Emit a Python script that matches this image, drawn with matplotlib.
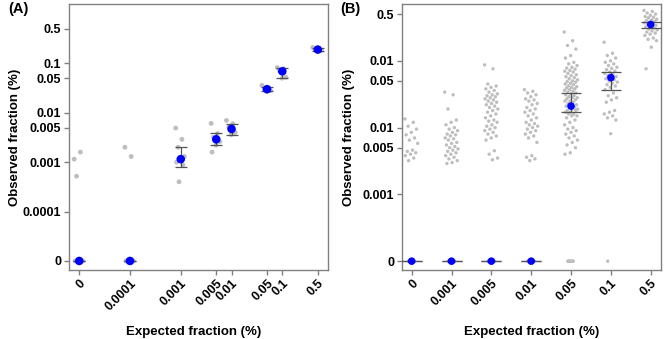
import numpy as np
import matplotlib
matplotlib.use("Agg")
import matplotlib.pyplot as plt

plt.rcParams['font.family'] = ['Liberation Sans', 'DejaVu Sans']
plt.rcParams['font.weight'] = 'bold'

# ---------------- Panel A data ----------------
a_expected = [0, 0.0001, 0.001, 0.005, 0.01, 0.05, 0.1, 0.5]
a_tick_labels = ['0', '0.0001', '0.001', '0.005', '0.01', '0.05', '0.1', '0.5']
a_y_ticks = [0, 0.0001, 0.001, 0.005, 0.01, 0.05, 0.1, 0.5]
a_y_labels = ['0', '0.0001', '0.001', '0.005', '0.01', '0.05', '0.1', '0.5']
a_obs = [
    [0.00115, 0.0016, 0.00052, 0, 0, 0, 0, 0],
    [0.002, 0.0013, 0, 0, 0, 0],
    [0.0049, 0.0029, 0.002, 0.0013, 0.0011, 0.001, 0.00088, 0.0004],
    [0.0061, 0.0038, 0.0032, 0.0026, 0.0022, 0.0016],
    [0.0070, 0.0060, 0.0052, 0.0040, 0.0036],
    [0.036, 0.032, 0.030, 0.028, 0.027],
    [0.082, 0.078, 0.070, 0.052, 0.050],
    [0.21, 0.20, 0.19, 0.18],
]
a_center = [0, 0, 0.00115, 0.0029, 0.0047, 0.030, 0.069, 0.19]
a_low = [0, 0, 0.0008, 0.0022, 0.0036, 0.027, 0.050, 0.18]
a_high = [0, 0, 0.002, 0.0039, 0.0059, 0.033, 0.079, 0.20]

# ---------------- Panel B data ----------------
b_categories = ['0', '0.001', '0.005', '0.01', '0.05', '0.1', '0.5']
b_y_ticks = [0, 0.001, 0.005, 0.01, 0.05, 0.1, 0.5]
b_y_labels = ['0', '0.001', '0.005', '0.01', '0.05', '0.01', '0.5']
b_obs = [
    [0.0135, 0.0120, 0.0105, 0.0095, 0.0085, 0.0078, 0.0070, 0.0065, 0.0058,
     0.0046, 0.0044, 0.0042, 0.0040, 0.0038, 0.0035, 0.0032] + [0] * 20,
    [0.034, 0.031, 0.019, 0.013, 0.012, 0.011, 0.010, 0.0095, 0.009, 0.0085,
     0.008, 0.0078, 0.0075, 0.007, 0.0068, 0.0065, 0.006, 0.0058, 0.0055,
     0.0052, 0.005, 0.0048, 0.0046, 0.0044, 0.0042, 0.004, 0.0038, 0.0036,
     0.0034, 0.0032, 0.003, 0.0029] + [0] * 40,
    [0.087, 0.076, 0.045, 0.042, 0.040, 0.038, 0.036, 0.034, 0.032, 0.031,
     0.030, 0.029, 0.028, 0.027, 0.026, 0.025, 0.024, 0.023, 0.022, 0.021,
     0.020, 0.019, 0.018, 0.017, 0.016, 0.015, 0.014, 0.013, 0.0125, 0.012,
     0.011, 0.0105, 0.010, 0.0095, 0.009, 0.0085, 0.008, 0.0075, 0.007,
     0.0065, 0.0045, 0.004, 0.0035, 0.0033] + [0] * 50,
    [0.037, 0.035, 0.033, 0.031, 0.029, 0.027, 0.026, 0.025, 0.023, 0.022,
     0.020, 0.019, 0.018, 0.017, 0.016, 0.015, 0.014, 0.013, 0.012, 0.0115,
     0.011, 0.0105, 0.010, 0.0095, 0.009, 0.0085, 0.008, 0.0075, 0.007,
     0.006, 0.0038, 0.0036, 0.0034, 0.0032] + [0] * 40,
    [0.27, 0.20, 0.17, 0.15, 0.12, 0.11, 0.095, 0.09, 0.085, 0.08, 0.078,
     0.075, 0.072, 0.07, 0.068, 0.065, 0.062, 0.06, 0.058, 0.056, 0.054,
     0.052, 0.05, 0.049, 0.048, 0.046, 0.045, 0.044, 0.042, 0.041, 0.04,
     0.039, 0.038, 0.037, 0.036, 0.035, 0.034, 0.033, 0.032, 0.031, 0.030,
     0.029, 0.028, 0.028, 0.027, 0.026, 0.025, 0.025, 0.024, 0.023, 0.022,
     0.022, 0.021, 0.020, 0.020, 0.019, 0.019, 0.018, 0.018, 0.017, 0.017,
     0.016, 0.016, 0.015, 0.015, 0.014, 0.013, 0.012, 0.011, 0.010, 0.0095,
     0.009, 0.0085, 0.008, 0.0075, 0.007, 0.0065, 0.006, 0.0055, 0.005,
     0.0042, 0.004] + [0] * 8,
    [0.19, 0.13, 0.12, 0.11, 0.10, 0.095, 0.09, 0.085, 0.08, 0.077, 0.074,
     0.07, 0.068, 0.065, 0.062, 0.06, 0.058, 0.056, 0.054, 0.052, 0.05,
     0.048, 0.046, 0.044, 0.042, 0.04, 0.037, 0.033, 0.03, 0.028, 0.026,
     0.024, 0.018, 0.017, 0.016, 0.015, 0.014, 0.013, 0.0081, 0],
    [0.57, 0.55, 0.52, 0.5, 0.48, 0.46, 0.45, 0.44, 0.42, 0.41, 0.40, 0.39,
     0.38, 0.37, 0.36, 0.35, 0.34, 0.33, 0.32, 0.31, 0.30, 0.29, 0.28, 0.27,
     0.26, 0.25, 0.24, 0.22, 0.21, 0.20, 0.16, 0.076],
]
b_center = [0, 0, 0, 0, 0.021, 0.056, 0.35]
b_low = [0, 0, 0, 0, 0.017, 0.037, 0.31]
b_high = [0, 0, 0, 0, 0.033, 0.069, 0.38]

GRAY = '#BEBEBE'
BLUE = '#0000FF'
BAR = '#555555'
SPINE = '#808080'


def make_scale(z):
    """log10 above z, linear from 0 (one decade below) up to z."""
    lz = np.log10(z)

    def fwd(y):
        y = np.asarray(y, float)
        safe = np.where(y >= z, y, z)
        return np.where(y >= z, np.log10(safe), lz - 1 + y / z)

    def inv(t):
        t = np.asarray(t, float)
        tt = np.where(t >= lz, t, lz)
        return np.where(t >= lz, 10.0 ** tt, (t - lz + 1) * z)

    return fwd, inv


def offsets(n, width):
    phi = 0.6180339887
    return np.array([((i * phi) % 1.0 - 0.5) * width for i in range(n)])


def style_axes(ax):
    for s in ax.spines.values():
        s.set_color(SPINE)
        s.set_linewidth(1.0)
    ax.tick_params(axis='both', which='major', direction='out', length=3.5,
                   width=1, color=SPINE, labelsize=9, pad=2)
    ax.tick_params(axis='both', which='minor', length=0)
    for lab in ax.get_xticklabels() + ax.get_yticklabels():
        lab.set_fontweight('bold')


fig = plt.figure(figsize=(6.64, 3.39), dpi=100)

# ---------------- Panel A ----------------
axA = fig.add_axes([0.104, 0.204, 0.390, 0.784])
fA, iA = make_scale(1e-4)
axA.set_xscale('function', functions=(fA, iA))
axA.set_yscale('function', functions=(fA, iA))

for k, (xe, vals) in enumerate(zip(a_expected, a_obs)):
    vals = np.array(vals, float)
    off = offsets(len(vals), 0.2)
    xs = iA(fA(xe) + off)
    axA.scatter(xs, vals, s=12, color=GRAY, edgecolors='none', zorder=2,
                clip_on=False)

ctr = np.array(a_center)
axA.errorbar(a_expected, ctr, yerr=[ctr - np.array(a_low), np.array(a_high) - ctr],
             fmt='none', ecolor=BAR, elinewidth=0.9, capsize=4, capthick=0.9,
             zorder=3)
axA.scatter(a_expected, a_center, s=38, color=BLUE, edgecolors='none', zorder=4,
            clip_on=False)

axA.set_xlim(iA(-5.2), iA(-0.1))
axA.set_ylim(iA(-5.18), iA(0.2))
axA.set_xticks(a_expected)
axA.set_xticklabels(a_tick_labels, rotation=45, ha='right',
                    rotation_mode='anchor')
axA.set_yticks(a_y_ticks)
axA.set_yticklabels(a_y_labels)
axA.minorticks_off()
style_axes(axA)
axA.set_xlabel('Expected fraction (%)', fontsize=9.5, fontweight='bold')
axA.set_ylabel('Observed fraction (%)', fontsize=9.5, fontweight='bold')
axA.xaxis.set_label_coords(0.48, -0.21)
axA.yaxis.set_label_coords(-0.185, 0.5)

# ---------------- Panel B ----------------
axB = fig.add_axes([0.605, 0.204, 0.390, 0.784])
fB, iB = make_scale(1e-3)
axB.set_yscale('function', functions=(fB, iB))
positions = np.arange(len(b_categories))

for k, vals in enumerate(b_obs):
    vals = np.array(vals, float)
    nz = vals > 0
    xs = np.empty(len(vals))
    xs[nz] = k + offsets(int(nz.sum()), 0.34)
    xs[~nz] = k + offsets(int((~nz).sum()), 0.16)
    axB.scatter(xs, vals, s=6, color=GRAY, edgecolors='none', zorder=2,
                clip_on=False)

ctrB = np.array(b_center)
axB.errorbar(positions, ctrB, yerr=[ctrB - np.array(b_low), np.array(b_high) - ctrB],
             fmt='none', ecolor=BAR, elinewidth=0.9, capsize=7, capthick=0.9,
             zorder=3)
axB.scatter(positions, b_center, s=30, color=BLUE, edgecolors='none', zorder=4,
            clip_on=False)

axB.set_xlim(-0.25, len(b_categories) - 0.75)
axB.set_ylim(iB(-4.13), iB(-0.15))
axB.set_xticks(positions)
axB.set_xticklabels(b_categories, rotation=45, ha='right',
                    rotation_mode='anchor')
axB.set_yticks(b_y_ticks)
axB.set_yticklabels(b_y_labels)
axB.minorticks_off()
style_axes(axB)
axB.set_xlabel('Expected fraction (%)', fontsize=9.5, fontweight='bold')
axB.set_ylabel('Observed fraction (%)', fontsize=9.5, fontweight='bold')
axB.xaxis.set_label_coords(0.5, -0.21)
axB.yaxis.set_label_coords(-0.18, 0.5)

fig.text(0.012, 0.995, '(A)', fontsize=10.5, fontweight='bold', va='top', ha='left')
fig.text(0.512, 0.995, '(B)', fontsize=10.5, fontweight='bold', va='top', ha='left')

fig.savefig('out.png', dpi=100)
